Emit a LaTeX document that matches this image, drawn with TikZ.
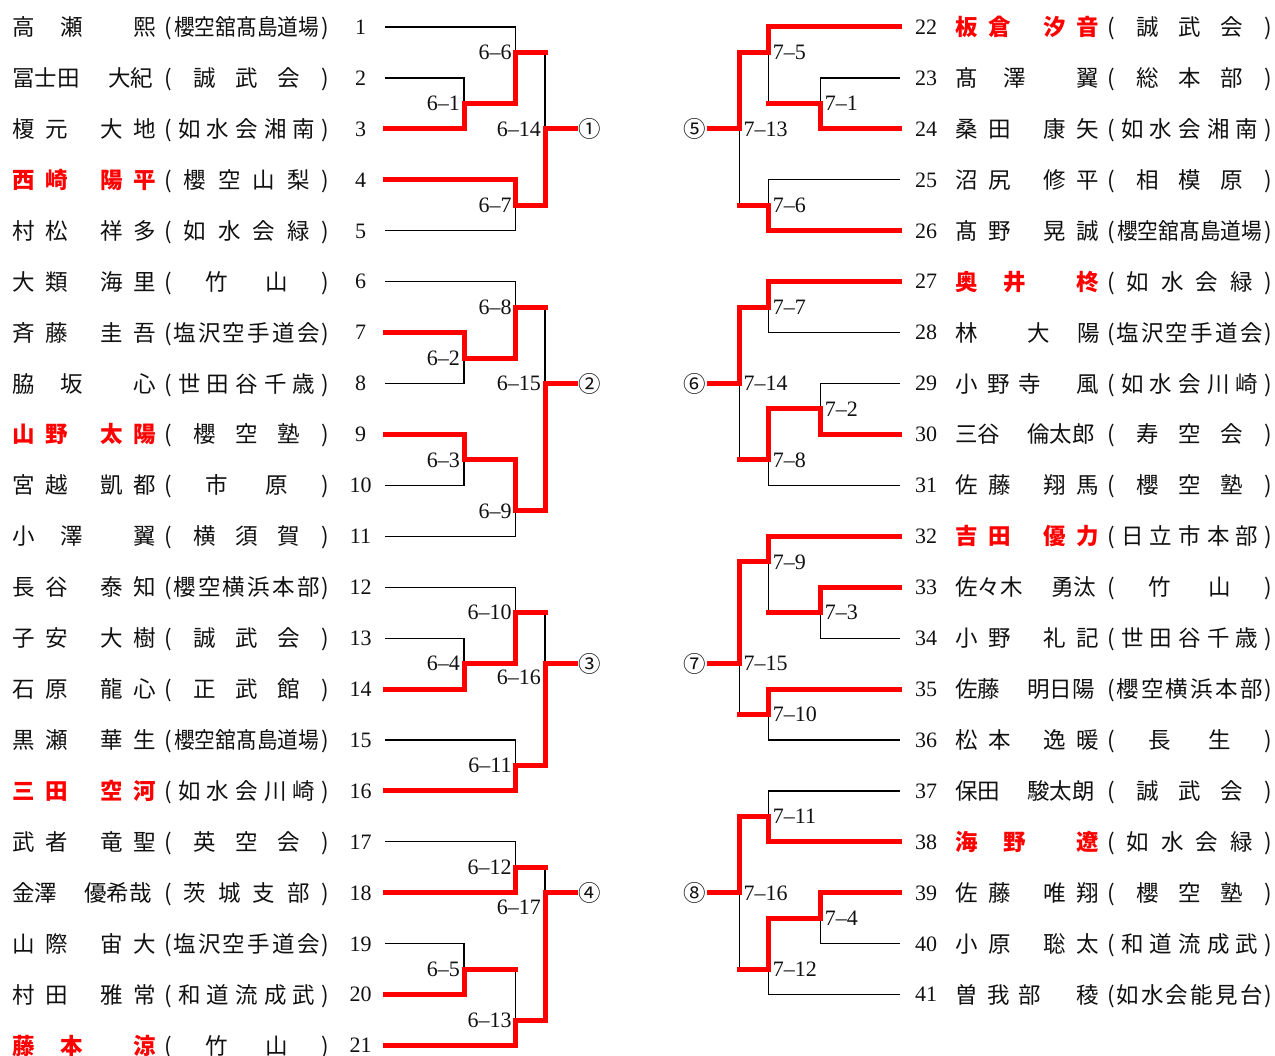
\documentclass[tikz,border=0pt]{standalone}
\usepackage{fontspec}
\usepackage{xcolor}
\usepackage{graphicx}
\usepackage{tikz}
\usetikzlibrary{positioning,calc}
\newfontfamily\jp{Noto Sans CJK JP}
\newfontfamily\dg[Ligatures=TeX]{Liberation Serif}
\definecolor{bkWin}{HTML}{FF0000}
\definecolor{bkInk}{HTML}{111111}
% spread the characters of a club name over a box
\def\sprX#1{#1\sprY}
\def\sprY#1{\ifx#1\relax\else\hfill#1\expandafter\sprY\fi}
\newcommand\clubB[1]{\hbox to 82pt{\sprX#1\relax}}
\newcommand\clubC[1]{\hbox to 107pt{\sprX#1\relax}}
\newcommand\clubD[1]{\hbox to 127pt{\sprX#1\relax}}
\newcommand\clubE[1]{\hbox to 137pt{\sprX#1\relax}}
\newcommand\clubF[1]{\hbox to 147pt{\sprX#1\relax}}
\newcommand\clubG[1]{\scalebox{0.92}[1]{#1}}
% name layouts
\newcommand\nA[4]{#1\hspace{10.5pt}#2\hspace{32.5pt}#3\hspace{10.5pt}#4}
\newcommand\nB[3]{#1\hspace{25.5pt}#2\hspace{50.5pt}#3}
\newcommand\nC[4]{#1\hspace{9.5pt}#2\hspace{8.5pt}#3\hspace{35.5pt}#4}
\newcommand\nD[3]{#1\hspace{49.5pt}#2\hspace{27.5pt}#3}
\newcommand\nS[2]{#1\hspace{27pt}#2}
\newcommand\nT[2]{#1\hspace{28.5pt}#2}
\newcommand\wn[1]{{\bfseries\color{bkWin}#1}}
\newcommand\plr[2]{\makebox[151pt][l]{#1}\makebox[10pt][c]{(}\makebox[147pt][c]{#2}\makebox[10pt][c]{)}}
\tikzset{
  player/.style={anchor=base west, inner sep=0pt, yshift=-8.5pt, text=bkInk,
    font=\jp\fontsize{22.5}{27}\selectfont},
  seed/.style={anchor=base, inner sep=0pt, yshift=-7.3pt, text=bkInk,
    font=\dg\fontsize{22}{26}\selectfont},
  lbl/.style={inner sep=0pt, yshift=-7.3pt, text=bkInk, font=\dg\fontsize{22}{26}\selectfont},
  lbll/.style={lbl, anchor=base east, xshift=-4pt},
  lblr/.style={lbl, anchor=base west, xshift=4pt},
  circ/.style={anchor=base, inner sep=0pt, yshift=-8.5pt, text=bkInk,
    font=\jp\fontsize{22.5}{27}\selectfont},
  tie/.style={line width=1.2pt, black},
  win/.style={line width=5pt, bkWin, line cap=rect}
}
\begin{document}
\begin{tikzpicture}[x=1pt,y=-50.93pt]
  \useasboundingbox (0,0.47) rectangle (1275,21.204);
  % left players
  \node[player] (e1) at (12,1) {\plr{\nB{高}{瀬}{熙}}{\clubG{櫻空舘髙島道場}}};
  \node[player] (e2) at (12,2) {\plr{\nT{冨士田}{大紀}}{\clubC{誠武会}}};
  \node[player] (e3) at (12,3) {\plr{\nA{榎}{元}{大}{地}}{\clubE{如水会湘南}}};
  \node[player] (e4) at (12,4) {\plr{\wn{\nA{西}{崎}{陽}{平}}}{\clubD{櫻空山梨}}};
  \node[player] (e5) at (12,5) {\plr{\nA{村}{松}{祥}{多}}{\clubD{如水会緑}}};
  \node[player] (e6) at (12,6) {\plr{\nA{大}{類}{海}{里}}{\clubB{竹山}}};
  \node[player] (e7) at (12,7) {\plr{\nA{斉}{藤}{圭}{吾}}{\clubF{塩沢空手道会}}};
  \node[player] (e8) at (12,8) {\plr{\nB{脇}{坂}{心}}{\clubE{世田谷千歳}}};
  \node[player] (e9) at (12,9) {\plr{\wn{\nA{山}{野}{太}{陽}}}{\clubC{櫻空塾}}};
  \node[player] (e10) at (12,10) {\plr{\nA{宮}{越}{凱}{都}}{\clubB{市原}}};
  \node[player] (e11) at (12,11) {\plr{\nB{小}{澤}{翼}}{\clubC{横須賀}}};
  \node[player] (e12) at (12,12) {\plr{\nA{長}{谷}{泰}{知}}{\clubF{櫻空横浜本部}}};
  \node[player] (e13) at (12,13) {\plr{\nA{子}{安}{大}{樹}}{\clubC{誠武会}}};
  \node[player] (e14) at (12,14) {\plr{\nA{石}{原}{龍}{心}}{\clubC{正武館}}};
  \node[player] (e15) at (12,15) {\plr{\nA{黒}{瀬}{華}{生}}{\clubG{櫻空舘髙島道場}}};
  \node[player] (e16) at (12,16) {\plr{\wn{\nA{三}{田}{空}{河}}}{\clubE{如水会川崎}}};
  \node[player] (e17) at (12,17) {\plr{\nA{武}{者}{竜}{聖}}{\clubC{英空会}}};
  \node[player] (e18) at (12,18) {\plr{\nS{金澤}{優希哉}}{\clubD{茨城支部}}};
  \node[player] (e19) at (12,19) {\plr{\nA{山}{際}{宙}{大}}{\clubF{塩沢空手道会}}};
  \node[player] (e20) at (12,20) {\plr{\nA{村}{田}{雅}{常}}{\clubE{和道流成武}}};
  \node[player] (e21) at (12,21) {\plr{\wn{\nB{藤}{本}{涼}}}{\clubB{竹山}}};
  % right players
  \node[player] (e22) at (955,1) {\plr{\wn{\nA{板}{倉}{汐}{音}}}{\clubC{誠武会}}};
  \node[player] (e23) at (955,2) {\plr{\nB{髙}{澤}{翼}}{\clubC{総本部}}};
  \node[player] (e24) at (955,3) {\plr{\nA{桑}{田}{康}{矢}}{\clubE{如水会湘南}}};
  \node[player] (e25) at (955,4) {\plr{\nA{沼}{尻}{修}{平}}{\clubC{相模原}}};
  \node[player] (e26) at (955,5) {\plr{\nA{髙}{野}{晃}{誠}}{\clubG{櫻空舘髙島道場}}};
  \node[player] (e27) at (955,6) {\plr{\wn{\nB{奥}{井}{柊}}}{\clubD{如水会緑}}};
  \node[player] (e28) at (955,7) {\plr{\nD{林}{大}{陽}}{\clubF{塩沢空手道会}}};
  \node[player] (e29) at (955,8) {\plr{\nC{小}{野}{寺}{風}}{\clubE{如水会川崎}}};
  \node[player] (e30) at (955,9) {\plr{\nS{三谷}{倫太郎}}{\clubC{寿空会}}};
  \node[player] (e31) at (955,10) {\plr{\nA{佐}{藤}{翔}{馬}}{\clubC{櫻空塾}}};
  \node[player] (e32) at (955,11) {\plr{\wn{\nA{吉}{田}{優}{力}}}{\clubE{日立市本部}}};
  \node[player] (e33) at (955,12) {\plr{\nT{佐々木}{勇汰}}{\clubB{竹山}}};
  \node[player] (e34) at (955,13) {\plr{\nA{小}{野}{礼}{記}}{\clubE{世田谷千歳}}};
  \node[player] (e35) at (955,14) {\plr{\nS{佐藤}{明日陽}}{\clubF{櫻空横浜本部}}};
  \node[player] (e36) at (955,15) {\plr{\nA{松}{本}{逸}{暖}}{\clubB{長生}}};
  \node[player] (e37) at (955,16) {\plr{\nS{保田}{駿太朗}}{\clubC{誠武会}}};
  \node[player] (e38) at (955,17) {\plr{\wn{\nB{海}{野}{遼}}}{\clubD{如水会緑}}};
  \node[player] (e39) at (955,18) {\plr{\nA{佐}{藤}{唯}{翔}}{\clubC{櫻空塾}}};
  \node[player] (e40) at (955,19) {\plr{\nA{小}{原}{聡}{太}}{\clubE{和道流成武}}};
  \node[player] (e41) at (955,20) {\plr{\nC{曽}{我}{部}{稜}}{\clubF{如水会能見台}}};
  % seeds and line ends
  \foreach \r in {1,...,21} {
    \node[seed] (s\r) at (360.5,\r) {\r};
    \coordinate (a\r) at (385,\r);
  }
  \foreach \r in {22,...,41} {
    \node[seed] (s\r) at (926,\r-21) {\r};
    \coordinate (b\r) at (899.5,\r-21);
  }
  % left junctions
  \coordinate (m1) at (464,2.5);
  \coordinate (m6) at (515.7,1.5);
  \coordinate (m7) at (515.7,4.5);
  \coordinate (m14) at (545,3);
  \coordinate (m2) at (464,7.5);
  \coordinate (m8) at (515.7,6.5);
  \coordinate (m3) at (464,9.5);
  \coordinate (m9) at (515.7,10.5);
  \coordinate (m15) at (545,8);
  \coordinate (m4) at (464,13.5);
  \coordinate (m10) at (515.7,12.5);
  \coordinate (m11) at (515.7,15.5);
  \coordinate (m16) at (545,13.5);
  \coordinate (m12) at (515.7,17.5);
  \coordinate (m5) at (464,19.5);
  \coordinate (m13) at (515.7,20.5);
  \coordinate (m17) at (545,18);
  % right junctions
  \coordinate (n1) at (820.7,2.5);
  \coordinate (n5) at (768.7,1.5);
  \coordinate (n6) at (768.7,4.5);
  \coordinate (n13) at (739.3,3);
  \coordinate (n7) at (768.7,6.5);
  \coordinate (n2) at (820.7,8.5);
  \coordinate (n8) at (768.7,9.5);
  \coordinate (n14) at (739.3,8);
  \coordinate (n3) at (820.7,12.5);
  \coordinate (n9) at (768.7,11.5);
  \coordinate (n10) at (768.7,14.5);
  \coordinate (n15) at (739.3,13.5);
  \coordinate (n11) at (768.7,16.5);
  \coordinate (n4) at (820.7,18.5);
  \coordinate (n12) at (768.7,19.5);
  \coordinate (n16) at (739.3,18);
  % pool ends
  \coordinate (o1) at (575,3);
  \coordinate (o2) at (575,8);
  \coordinate (o3) at (575,13.5);
  \coordinate (o4) at (575,18);
  \coordinate (o5) at (709.3,3);
  \coordinate (o6) at (709.3,8);
  \coordinate (o7) at (709.3,13.5);
  \coordinate (o8) at (709.3,18);
  % thin bracket
  \draw[tie] (a2) -| (m1) (a3) -| (m1) (a1) -| (m6) (m1) -| (m6)
    (a4) -| (m7) (a5) -| (m7) (m6) -| (m14) (m7) -| (m14);
  \draw[tie] (a7) -| (m2) (a8) -| (m2) (a6) -| (m8) (m2) -| (m8)
    (a9) -| (m3) (a10) -| (m3) (m3) -| (m9) (a11) -| (m9) (m8) -| (m15) (m9) -| (m15);
  \draw[tie] (a13) -| (m4) (a14) -| (m4) (a12) -| (m10) (m4) -| (m10)
    (a15) -| (m11) (a16) -| (m11) (m10) -| (m16) (m11) -| (m16);
  \draw[tie] (a17) -| (m12) (a18) -| (m12) (a19) -| (m5) (a20) -| (m5)
    (m5) -| (m13) (a21) -| (m13) (m12) -| (m17) (m13) -| (m17);
  \draw[tie] (b23) -| (n1) (b24) -| (n1) (b22) -| (n5) (n1) -| (n5)
    (b25) -| (n6) (b26) -| (n6) (n5) -| (n13) (n6) -| (n13);
  \draw[tie] (b27) -| (n7) (b28) -| (n7) (b29) -| (n2) (b30) -| (n2)
    (n2) -| (n8) (b31) -| (n8) (n7) -| (n14) (n8) -| (n14);
  \draw[tie] (b33) -| (n3) (b34) -| (n3) (b32) -| (n9) (n3) -| (n9)
    (b35) -| (n10) (b36) -| (n10) (n9) -| (n15) (n10) -| (n15);
  \draw[tie] (b37) -| (n11) (b38) -| (n11) (b39) -| (n4) (b40) -| (n4)
    (n4) -| (n12) (b41) -| (n12) (n11) -| (n16) (n12) -| (n16);
  % winners
  \draw[win] (a3) -| (m1) -| (m6) -- (m6 -| m14);
  \draw[win] (a4) -| (m7) -| (m14) -- (o1);
  \draw[win] (a7) -| (m2) -| (m8) -- (m8 -| m15);
  \draw[win] (a9) -| (m3) -| (m9) -| (m15) -- (o2);
  \draw[win] (a14) -| (m4) -| (m10) -- (m10 -| m16);
  \draw[win] (a16) -| (m11) -| (m16) -- (o3);
  \draw[win] (a18) -| (m12) -- (m12 -| m17);
  \draw[win] (a20) -| (m5) -- (m5 -| m13);
  \draw[win] (a21) -| (m13) -| (m17) -- (o4);
  \draw[win] (b22) -| (n5) -| (n13) -- (o5);
  \draw[win] (b24) -| (n1) -- (n1 -| n5);
  \draw[win] (b26) -| (n6) -- (n6 -| n13);
  \draw[win] (b27) -| (n7) -| (n14) -- (o6);
  \draw[win] (b30) -| (n2) -| (n8) -- (n8 -| n14);
  \draw[win] (b32) -| (n9) -| (n15) -- (o7);
  \draw[win] (b33) -| (n3) -- (n3 -| n9);
  \draw[win] (b35) -| (n10) -- (n10 -| n15);
  \draw[win] (b38) -| (n11) -| (n16) -- (o8);
  \draw[win] (b39) -| (n4) -| (n12) -- (n12 -| n16);
  % match numbers
  \node[lbll] (t1) at (m1) {6--1};
  \node[lbll] (t2) at (m2) {6--2};
  \node[lbll] (t3) at (m3) {6--3};
  \node[lbll] (t4) at (m4) {6--4};
  \node[lbll] (t5) at (m5) {6--5};
  \node[lbll] (t6) at (m6) {6--6};
  \node[lbll] (t7) at (m7) {6--7};
  \node[lbll] (t8) at (m8) {6--8};
  \node[lbll] (t9) at (m9) {6--9};
  \node[lbll] (t10) at (m10) {6--10};
  \node[lbll] (t11) at (m11) {6--11};
  \node[lbll] (t12) at (m12) {6--12};
  \node[lbll] (t13) at (m13) {6--13};
  \node[lbll] (t14) at (m14) {6--14};
  \node[lbll] (t15) at (m15) {6--15};
  \node[lbll, yshift=-14pt] (t16) at (m16) {6--16};
  \node[lbll, yshift=-14pt] (t17) at (m17) {6--17};
  \node[lblr] (u1) at (n1) {7--1};
  \node[lblr] (u2) at (n2) {7--2};
  \node[lblr] (u3) at (n3) {7--3};
  \node[lblr] (u4) at (n4) {7--4};
  \node[lblr] (u5) at (n5) {7--5};
  \node[lblr] (u6) at (n6) {7--6};
  \node[lblr] (u7) at (n7) {7--7};
  \node[lblr] (u8) at (n8) {7--8};
  \node[lblr] (u9) at (n9) {7--9};
  \node[lblr] (u10) at (n10) {7--10};
  \node[lblr] (u11) at (n11) {7--11};
  \node[lblr] (u12) at (n12) {7--12};
  \node[lblr] (u13) at (n13) {7--13};
  \node[lblr] (u14) at (n14) {7--14};
  \node[lblr] (u15) at (n15) {7--15};
  \node[lblr] (u16) at (n16) {7--16};
  % pools
  \node[circ] (w1) at (590,3) {①};
  \node[circ] (w2) at (590,8) {②};
  \node[circ] (w3) at (590,13.5) {③};
  \node[circ] (w4) at (590,18) {④};
  \node[circ] (w5) at (694.5,3) {⑤};
  \node[circ] (w6) at (694.5,8) {⑥};
  \node[circ] (w7) at (694.5,13.5) {⑦};
  \node[circ] (w8) at (694.5,18) {⑧};
\end{tikzpicture}
\end{document}
